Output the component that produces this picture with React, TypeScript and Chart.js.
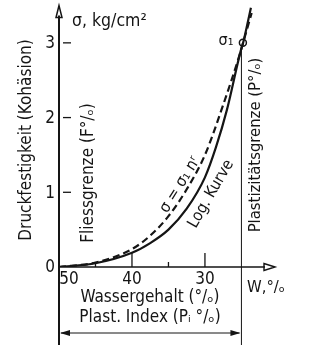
import React, { useEffect, useRef } from "react";
import { Chart, registerables } from "chart.js";

Chart.register(...registerables);

// Water content W (%) and strength sigma (kg/cm²)
const wLog = [50, 45, 40, 37.5, 35, 32.5, 30, 28.5, 27, 25, 24.8, 24.1, 23.7];
const sigmaLog = [0, 0.05, 0.19, 0.32, 0.5, 0.78, 1.2, 1.6, 2.1, 2.93, 2.99, 3.29, 3.47];
const wPower = [50, 45, 40, 37.5, 35, 32.5, 30, 27.5, 25, 24.8, 23.6];
const sigmaPower = [0, 0.06, 0.24, 0.42, 0.68, 1.04, 1.5, 2.17, 2.92, 2.99, 3.4];
const sigma1Point = [{ x: 24.8, y: 3.0 }];
const plasticLimit = 25;
const xTicksMajor = [50, 40, 30];
const xTicksMinor = [45, 35];
const yTicks = [0, 1, 2, 3];

const FONT = '"DejaVu Sans Condensed", "DejaVu Sans", sans-serif';
const INK = "#151515";

const overlay = {
  id: "overlay",
  afterDraw(chart: any) {
    const ctx = chart.ctx as CanvasRenderingContext2D;
    const xs = chart.scales.x;
    const ys = chart.scales.y;
    const x0 = xs.getPixelForValue(50);
    const y0 = ys.getPixelForValue(0);
    const yTop = ys.getPixelForValue(3.5);
    const xEnd = xs.getPixelForValue(20.4);
    const xPl = xs.getPixelForValue(plasticLimit);
    ctx.save();
    ctx.strokeStyle = INK;
    ctx.fillStyle = INK;
    ctx.lineCap = "butt";

    // y axis
    ctx.lineWidth = 2;
    ctx.beginPath();
    ctx.moveTo(x0, 345);
    ctx.lineTo(x0, yTop + 10);
    ctx.stroke();
    ctx.lineWidth = 1.5;
    ctx.beginPath();
    ctx.moveTo(x0, yTop);
    ctx.lineTo(x0 - 3, yTop + 12);
    ctx.lineTo(x0 + 3, yTop + 12);
    ctx.closePath();
    ctx.stroke();

    // x axis
    ctx.lineWidth = 1.6;
    ctx.beginPath();
    ctx.moveTo(x0, y0);
    ctx.lineTo(xEnd - 10, y0);
    ctx.stroke();
    ctx.lineWidth = 1.4;
    ctx.beginPath();
    ctx.moveTo(xEnd, y0);
    ctx.lineTo(xEnd - 11, y0 - 3.5);
    ctx.lineTo(xEnd - 11, y0 + 3.5);
    ctx.closePath();
    ctx.stroke();

    // plastic limit line
    ctx.lineWidth = 1;
    ctx.beginPath();
    ctx.moveTo(xPl, ys.getPixelForValue(2.94));
    ctx.lineTo(xPl, 345);
    ctx.stroke();

    // y ticks
    ctx.lineWidth = 1.3;
    yTicks.forEach((v) => {
      if (v === 0) return;
      const p = ys.getPixelForValue(v);
      ctx.beginPath();
      ctx.moveTo(x0 + 4, p);
      ctx.lineTo(x0 + 12, p);
      ctx.stroke();
    });
    xTicksMajor.forEach((v) => {
      if (v === 50) return;
      const p = xs.getPixelForValue(v);
      ctx.beginPath();
      ctx.moveTo(p, y0);
      ctx.lineTo(p, y0 - 14);
      ctx.stroke();
    });
    xTicksMinor.forEach((v) => {
      const p = xs.getPixelForValue(v);
      ctx.beginPath();
      ctx.moveTo(p, y0);
      ctx.lineTo(p, y0 - 5);
      ctx.stroke();
    });

    // tick labels
    ctx.font = `17px ${FONT}`;
    ctx.textBaseline = "middle";
    ctx.textAlign = "right";
    yTicks.forEach((v) => {
      ctx.fillText(String(v), x0 - 4, ys.getPixelForValue(v) + 1);
    });
    ctx.textAlign = "center";
    ctx.textBaseline = "top";
    xTicksMajor.forEach((v) => {
      const p = xs.getPixelForValue(v);
      ctx.fillText(String(v), v === 50 ? p + 10 : p, y0 + 4);
    });

    const text = (t: string, x: number, y: number, size: number, angle = 0, align: CanvasTextAlign = "center") => {
      ctx.save();
      ctx.translate(x, y);
      ctx.rotate((angle * Math.PI) / 180);
      ctx.font = `${size}px ${FONT}`;
      ctx.textAlign = align;
      ctx.textBaseline = "middle";
      ctx.fillText(t, 0, 0);
      ctx.restore();
    };
    text("σ, kg/cm²", 72, 21, 17.5, 0, "left");
    text("Druckfestigkeit (Kohäsion)", 27, 140, 17, -90);
    text("Fliessgrenze (F°/ₒ)", 89, 173, 17, -90);
    text("Plastizitätsgrenze (P°/ₒ)", 256, 145, 16.5, -90);
    text("σ = σ₁ nʳ", 180, 185, 16, -58);
    text("Log. Kurve", 211, 194, 16, -60);
    text("σ₁", 226, 41, 16);
    text("W,°/ₒ", 247, 288, 16.5, 0, "left");
    text("Wassergehalt (°/ₒ)", 150, 298, 17);
    text("Plast. Index (Pᵢ °/ₒ)", 150, 318, 17);

    // dimension arrow
    const yd = 333;
    ctx.lineWidth = 1;
    ctx.beginPath();
    ctx.moveTo(x0 + 2, yd);
    ctx.lineTo(xPl - 2, yd);
    ctx.stroke();
    ctx.beginPath();
    ctx.moveTo(x0 + 1, yd);
    ctx.lineTo(x0 + 11, yd - 3);
    ctx.lineTo(x0 + 11, yd + 3);
    ctx.closePath();
    ctx.fill();
    ctx.beginPath();
    ctx.moveTo(xPl - 1, yd);
    ctx.lineTo(xPl - 11, yd - 3);
    ctx.lineTo(xPl - 11, yd + 3);
    ctx.closePath();
    ctx.fill();

    ctx.restore();
  },
};

export default function App() {
  const ref = useRef<HTMLCanvasElement>(null);
  useEffect(() => {
    document.body.style.margin = "0";
    const chart = new Chart(ref.current!, {
      type: "line",
      data: {
        datasets: [
          {
            label: "Log. Kurve",
            data: wLog.map((w, i) => ({ x: w, y: sigmaLog[i] })),
            borderColor: INK,
            borderWidth: 2.2,
            pointRadius: 0,
            cubicInterpolationMode: "monotone",
            fill: false,
          },
          {
            label: "σ = σ₁ nʳ",
            data: wPower.map((w, i) => ({ x: w, y: sigmaPower[i] })),
            borderColor: INK,
            borderWidth: 2.2,
            borderDash: [7, 4],
            pointRadius: 0,
            cubicInterpolationMode: "monotone",
            fill: false,
          },
          {
            label: "σ₁",
            data: sigma1Point,
            showLine: false,
            pointRadius: 3.5,
            pointBackgroundColor: "#ffffff",
            pointBorderColor: INK,
            pointBorderWidth: 1.5,
          },
        ],
      },
      options: {
        animation: false,
        responsive: true,
        maintainAspectRatio: false,
        layout: { padding: { left: 59, right: 58, top: 4.5, bottom: 83 } },
        plugins: { legend: { display: false }, tooltip: { enabled: false } },
        scales: {
          x: { type: "linear", reverse: true, min: 20.4, max: 50, display: false },
          y: { type: "linear", min: 0, max: 3.5, display: false },
        },
      },
      plugins: [overlay],
    });
    return () => chart.destroy();
  }, []);
  return (
    <div style={{ width: 333, height: 350, position: "relative", background: "#fff" }}>
      <canvas ref={ref} />
    </div>
  );
}
